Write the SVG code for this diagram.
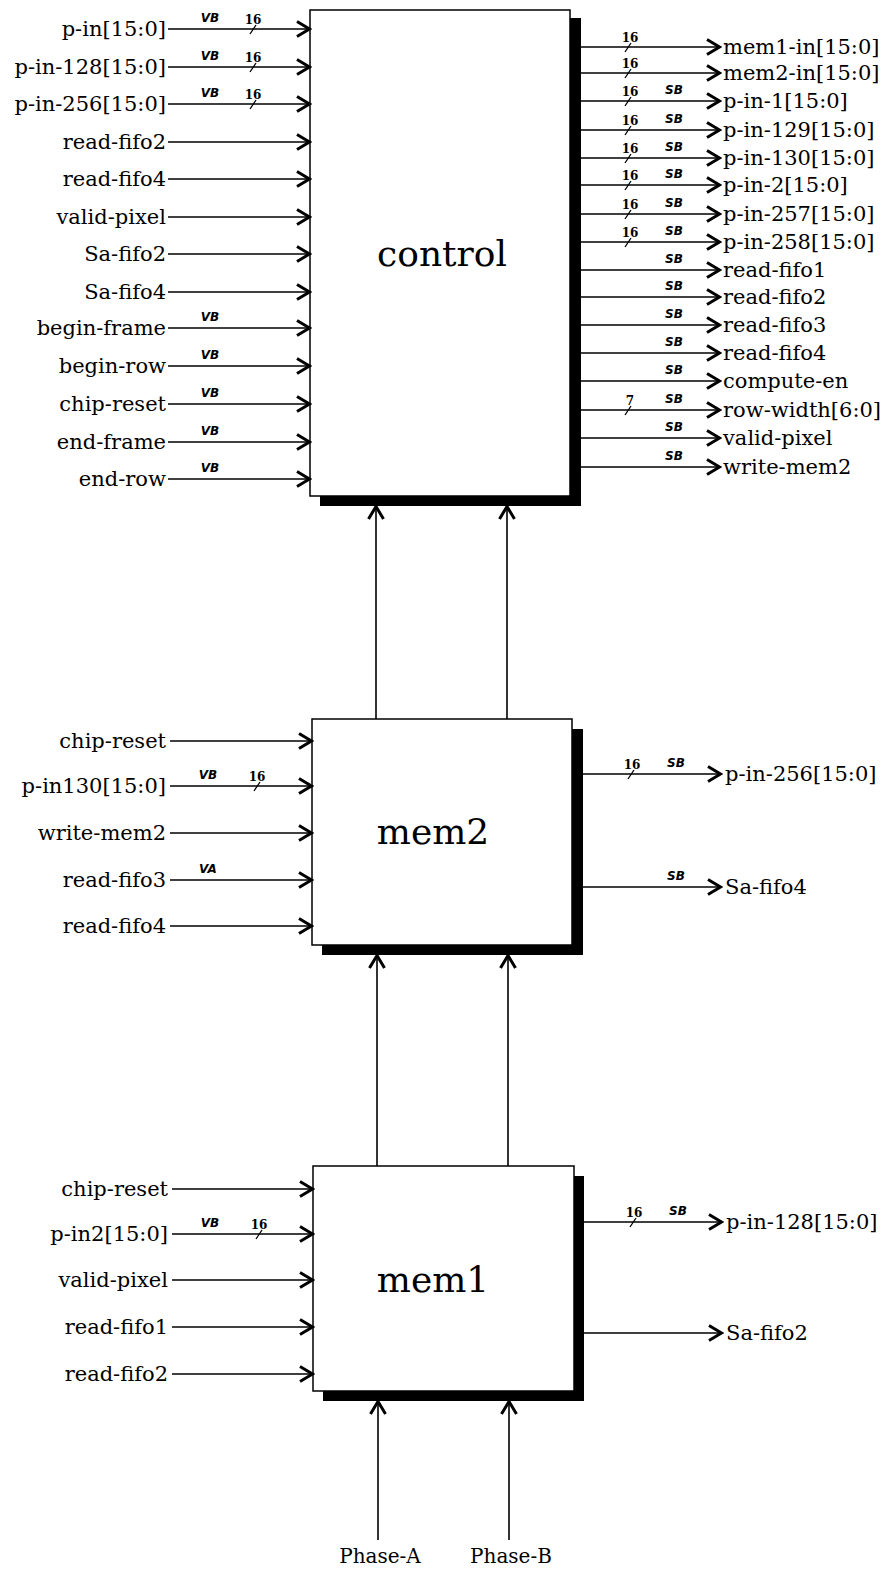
<svg xmlns="http://www.w3.org/2000/svg" width="882" height="1569" viewBox="0 0 882 1569">
<style>
.w{stroke:#000;stroke-width:1.5;fill:none}
.wa{stroke:#000;stroke-width:1.6;fill:none;marker-end:url(#arr)}
.box{fill:#fff;stroke:#000;stroke-width:1.5}
.sh{fill:#000}
.lbl{font-family:"DejaVu Serif","Liberation Serif",serif;font-size:21px;fill:#000}
.l{text-anchor:end}
.ttl{font-family:"DejaVu Serif","Liberation Serif",serif;font-size:36px;text-anchor:middle;fill:#000}
.tag{font-family:"DejaVu Sans","Liberation Sans",sans-serif;font-size:12px;font-weight:bold;font-style:italic;text-anchor:middle;fill:#000}
.num{font-family:"DejaVu Serif","Liberation Serif",serif;font-size:12px;font-weight:bold;text-anchor:middle;fill:#000}
.ph{font-family:"DejaVu Serif","Liberation Serif",serif;font-size:20px;text-anchor:middle;fill:#000}
.sl{stroke:#000;stroke-width:1.3;fill:none}
</style>
<defs>
<marker id="arr" viewBox="-16 -10 18 20" markerWidth="18" markerHeight="20" refX="0" refY="0" orient="auto" markerUnits="userSpaceOnUse">
<path d="M-13,-7.5 L-0.5,0 L-13,7.5" fill="none" stroke="#000" stroke-width="3"/>
</marker>
</defs>

<g id="control">
<rect class="sh" x="320" y="18" width="261" height="488"/>
<rect class="box" x="310" y="10" width="260" height="486"/>
<text class="ttl" x="442" y="266">control</text>
</g>
<g id="mem2">
<rect class="sh" x="322" y="729" width="261" height="226"/>
<rect class="box" x="312" y="719" width="260" height="226"/>
<text class="ttl" x="433" y="844">mem2</text>
</g>
<g id="mem1">
<rect class="sh" x="323" y="1176" width="261" height="225"/>
<rect class="box" x="313" y="1166" width="261" height="225"/>
<text class="ttl" x="433" y="1292">mem1</text>
</g>

<g id="connectors">
<path class="wa" d="M168,29 H310"/>
<path class="wa" d="M168,67 H310"/>
<path class="wa" d="M168,104 H310"/>
<path class="wa" d="M168,142 H310"/>
<path class="wa" d="M168,179 H310"/>
<path class="wa" d="M168,217 H310"/>
<path class="wa" d="M168,254 H310"/>
<path class="wa" d="M168,292 H310"/>
<path class="wa" d="M168,328 H310"/>
<path class="wa" d="M168,366 H310"/>
<path class="wa" d="M168,404 H310"/>
<path class="wa" d="M168,442 H310"/>
<path class="wa" d="M168,479 H310"/>
<path class="wa" d="M581,47 H720"/>
<path class="wa" d="M581,73 H720"/>
<path class="wa" d="M581,101 H720"/>
<path class="wa" d="M581,130 H720"/>
<path class="wa" d="M581,158 H720"/>
<path class="wa" d="M581,185 H720"/>
<path class="wa" d="M581,214 H720"/>
<path class="wa" d="M581,242 H720"/>
<path class="wa" d="M581,270 H720"/>
<path class="wa" d="M581,297 H720"/>
<path class="wa" d="M581,325 H720"/>
<path class="wa" d="M581,353 H720"/>
<path class="wa" d="M581,381 H720"/>
<path class="wa" d="M581,410 H720"/>
<path class="wa" d="M581,438 H720"/>
<path class="wa" d="M581,467 H720"/>
<path class="wa" d="M376,719 V506"/>
<path class="wa" d="M507,719 V506"/>
<path class="wa" d="M170,741 H312"/>
<path class="wa" d="M170,786 H312"/>
<path class="wa" d="M170,833 H312"/>
<path class="wa" d="M170,880 H312"/>
<path class="wa" d="M170,926 H312"/>
<path class="wa" d="M583,774 H721"/>
<path class="wa" d="M583,887 H721"/>
<path class="wa" d="M377,1166 V955"/>
<path class="wa" d="M508,1166 V955"/>
<path class="wa" d="M172,1189 H313"/>
<path class="wa" d="M172,1234 H313"/>
<path class="wa" d="M172,1280 H313"/>
<path class="wa" d="M172,1327 H313"/>
<path class="wa" d="M172,1374 H313"/>
<path class="wa" d="M584,1222 H722"/>
<path class="wa" d="M584,1333 H722"/>
<path class="wa" d="M378,1540 V1401"/>
<path class="wa" d="M509,1540 V1401"/>
<path class="sl" d="M250,34 L256,25 M250,72 L256,63 M250,109 L256,100"/>
<path class="sl" d="M625,52 L631,43 M625,78 L631,69 M625,106 L631,97 M625,135 L631,126 M625,163 L631,154 M625,190 L631,181 M625,219 L631,210 M625,247 L631,238 M625,415 L631,406"/>
<path class="sl" d="M254,791 L260,782 M628,779 L634,770"/>
<path class="sl" d="M256,1239 L262,1230 M630,1227 L636,1218"/>
</g>

<g id="tags">
<text class="tag" x="210" y="22">VB</text><text class="num" x="253" y="24">16</text>
<text class="tag" x="210" y="60">VB</text><text class="num" x="253" y="62">16</text>
<text class="tag" x="210" y="97">VB</text><text class="num" x="253" y="99">16</text>
<text class="tag" x="210" y="321">VB</text>
<text class="tag" x="210" y="359">VB</text>
<text class="tag" x="210" y="397">VB</text>
<text class="tag" x="210" y="435">VB</text>
<text class="tag" x="210" y="472">VB</text>
<text class="num" x="630" y="42">16</text>
<text class="num" x="630" y="68">16</text>
<text class="num" x="630" y="96">16</text><text class="tag" x="674" y="94">SB</text>
<text class="num" x="630" y="125">16</text><text class="tag" x="674" y="123">SB</text>
<text class="num" x="630" y="153">16</text><text class="tag" x="674" y="151">SB</text>
<text class="num" x="630" y="180">16</text><text class="tag" x="674" y="178">SB</text>
<text class="num" x="630" y="209">16</text><text class="tag" x="674" y="207">SB</text>
<text class="num" x="630" y="237">16</text><text class="tag" x="674" y="235">SB</text>
<text class="tag" x="674" y="263">SB</text>
<text class="tag" x="674" y="290">SB</text>
<text class="tag" x="674" y="318">SB</text>
<text class="tag" x="674" y="346">SB</text>
<text class="tag" x="674" y="374">SB</text>
<text class="num" x="630" y="405">7</text><text class="tag" x="674" y="403">SB</text>
<text class="tag" x="674" y="431">SB</text>
<text class="tag" x="674" y="460">SB</text>
<text class="tag" x="208" y="779">VB</text><text class="num" x="257" y="781">16</text>
<text class="tag" x="208" y="873">VA</text>
<text class="num" x="632" y="769">16</text><text class="tag" x="676" y="767">SB</text>
<text class="tag" x="676" y="880">SB</text>
<text class="tag" x="210" y="1227">VB</text><text class="num" x="259" y="1229">16</text>
<text class="num" x="634" y="1217">16</text><text class="tag" x="678" y="1215">SB</text>
</g>

<g id="labels">
<text class="lbl l" x="166" y="36">p-in[15:0]</text>
<text class="lbl l" x="166" y="74">p-in-128[15:0]</text>
<text class="lbl l" x="166" y="111">p-in-256[15:0]</text>
<text class="lbl l" x="166" y="149">read-fifo2</text>
<text class="lbl l" x="166" y="186">read-fifo4</text>
<text class="lbl l" x="166" y="224">valid-pixel</text>
<text class="lbl l" x="166" y="261">Sa-fifo2</text>
<text class="lbl l" x="166" y="299">Sa-fifo4</text>
<text class="lbl l" x="166" y="335">begin-frame</text>
<text class="lbl l" x="166" y="373">begin-row</text>
<text class="lbl l" x="166" y="411">chip-reset</text>
<text class="lbl l" x="166" y="449">end-frame</text>
<text class="lbl l" x="166" y="486">end-row</text>

<text class="lbl" x="723" y="54">mem1-in[15:0]</text>
<text class="lbl" x="723" y="80">mem2-in[15:0]</text>
<text class="lbl" x="723" y="108">p-in-1[15:0]</text>
<text class="lbl" x="723" y="137">p-in-129[15:0]</text>
<text class="lbl" x="723" y="165">p-in-130[15:0]</text>
<text class="lbl" x="723" y="192">p-in-2[15:0]</text>
<text class="lbl" x="723" y="221">p-in-257[15:0]</text>
<text class="lbl" x="723" y="249">p-in-258[15:0]</text>
<text class="lbl" x="723" y="277">read-fifo1</text>
<text class="lbl" x="723" y="304">read-fifo2</text>
<text class="lbl" x="723" y="332">read-fifo3</text>
<text class="lbl" x="723" y="360">read-fifo4</text>
<text class="lbl" x="723" y="388">compute-en</text>
<text class="lbl" x="723" y="417">row-width[6:0]</text>
<text class="lbl" x="723" y="445">valid-pixel</text>
<text class="lbl" x="723" y="474">write-mem2</text>

<text class="lbl l" x="166" y="748">chip-reset</text>
<text class="lbl l" x="166" y="793">p-in130[15:0]</text>
<text class="lbl l" x="166" y="840">write-mem2</text>
<text class="lbl l" x="166" y="887">read-fifo3</text>
<text class="lbl l" x="166" y="933">read-fifo4</text>
<text class="lbl" x="725" y="781">p-in-256[15:0]</text>
<text class="lbl" x="725" y="894">Sa-fifo4</text>

<text class="lbl l" x="168" y="1196">chip-reset</text>
<text class="lbl l" x="168" y="1241">p-in2[15:0]</text>
<text class="lbl l" x="168" y="1287">valid-pixel</text>
<text class="lbl l" x="168" y="1334">read-fifo1</text>
<text class="lbl l" x="168" y="1381">read-fifo2</text>
<text class="lbl" x="726" y="1229">p-in-128[15:0]</text>
<text class="lbl" x="726" y="1340">Sa-fifo2</text>

<text class="ph" x="380" y="1563">Phase-A</text>
<text class="ph" x="511" y="1563">Phase-B</text>
</g>
</svg>
